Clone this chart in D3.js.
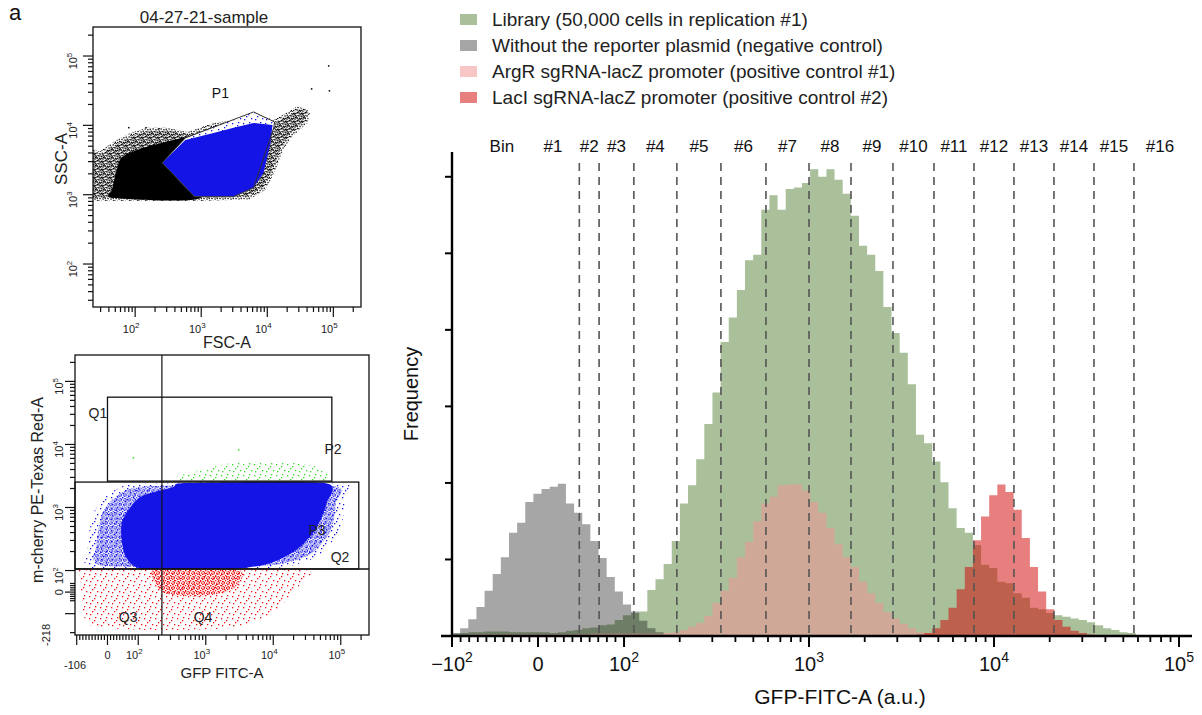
<!DOCTYPE html>
<html>
<head>
<meta charset="utf-8">
<title>GFP sorting bins</title>
<script src="https://d3js.org/d3.v7.min.js"></script>
<style>
  body { margin: 0; background: #fff; }
  text { font-family: "Liberation Sans", Arial, Helvetica, sans-serif; }
</style>
</head>
<body>
<div id="chart"></div>
<script>
// ---------------- data: right panel (GFP histograms) ----------------
const legendLabels = [
  "Library (50,000 cells in replication #1)",
  "Without the reporter plasmid (negative control)",
  "ArgR sgRNA-lacZ promoter (positive control #1)",
  "LacI sgRNA-lacZ promoter (positive control #2)"
];

// histogram bins are equal steps on the display axis, starting at -10^2
const histBinWidth = 0.044;   // one bar, in display decades

const libraryFirstBin = 0;
const libraryCounts = [
  3, 4, 5, 5, 6, 6, 6, 5, 5, 5, 5, 5, 4, 5,
  7, 8, 10, 11, 14, 15, 21, 27, 30, 32,
  60, 74, 94, 124, 173, 197, 231, 277, 318, 384,
  416, 452, 491, 498, 557, 576, 557, 584, 586, 592,
  610, 600, 610, 596, 578, 549, 510, 498, 477, 430,
  396, 370, 329, 263, 252, 228, 201, 167, 141, 135,
  119, 93, 89, 71, 69, 56, 50, 37, 35, 30,
  27, 25, 23, 21, 18, 14, 10, 8, 5, 4
];
const negativeFirstBin = 0;
const negativeCounts = [
  4, 10, 22, 38, 59, 81, 103, 135, 148, 175, 186, 192, 195, 199,
  173, 161, 146, 124, 102, 77, 58, 41, 32, 20, 10, 5
];
const argrFirstBin = 0;
const argrCounts = [
  1, 1, 2, 2, 2, 2, 2, 2, 2, 2, 2, 2, 2, 2, 2, 2, 2, 3, 3, 3, 3, 3, 3, 3, 3,
  3, 4, 5, 8, 12, 17, 26, 43, 59, 76,
  103, 123, 150, 173, 182, 197, 198, 198, 190, 175,
  161, 141, 120, 103, 90, 71, 56, 43, 31, 23,
  16, 10, 5, 4, 2
];
const laciFirstBin = 56;
const laciCounts = [
  1, 2, 4, 10, 21, 37, 61, 90, 125, 156, 184, 198, 188, 165, 128, 90, 58, 35, 21, 12, 7, 4, 2
];

// sorting gates (outer two edges only place the "Bin" and "#1" labels)
const binEdges = [-71, -13, 48, 71, 113, 193, 334, 585, 1000, 1686, 2843, 4736,
                  7791, 12817, 21090, 34700, 57070, 109000];
const binLabels = ["Bin", "#1", "#2", "#3", "#4", "#5", "#6", "#7", "#8", "#9",
                   "#10", "#11", "#12", "#13", "#14", "#15", "#16"];
const freqTicks = [100, 200, 300, 400, 500, 600];
const gfpTickValues = [-100, 0, 100, 1000, 10000, 100000];
const gfpTickLabels = [["\u221210", "2"], ["0", ""], ["10", "2"], ["10", "3"], ["10", "4"], ["10", "5"]];

// ---------------- data: top-left dot plot (FSC-A / SSC-A) ----------------
const scatterTitle = "04-27-21-sample";
const logTickValues = [100, 1000, 10000, 100000];
const logTickLabels = [["10", "2"], ["10", "3"], ["10", "4"], ["10", "5"]];
const allEvents = [[20, 4900], [29, 4150], [46, 5770], [84, 7770], [152, 9200], [306, 9200],
  [617, 8040], [1530, 10800], [3090, 11900], [6200, 15100], [12500, 11900], [20400, 15600],
  [29000, 19000], [41000, 16700], [38000, 11900], [22700, 7770], [16000, 4900], [12500, 2520],
  [8800, 1300], [5000, 940], [980, 900], [20, 900]];
const denseEvents = [[45, 1200], [60, 3300], [120, 4600], [257, 5600], [600, 6800],
  [973, 7000], [973, 906], [45, 906]];
const p1Events = [[257, 2880], [575, 6170], [1530, 7770], [3090, 9200], [6200, 10800],
  [12000, 10100], [11200, 5600], [8800, 2070], [6200, 1260], [3090, 940], [790, 940]];
const p1Gate = [[257, 2880], [575, 6590], [6200, 15600], [12900, 11200], [12500, 9180],
  [6200, 1260], [3090, 936], [790, 936]];
const p1Label = { text: "P1", fsc: 1950, ssc: 25000 };
const strayEvents = [[82800, 73800], [45700, 34400], [85000, 32300], [78, 9490], [142, 9490], [224, 9180]];

// ---------------- data: bottom-left dot plot (GFP / mCherry) ----------------
const gfpScatterTicks = [-106, 0, 100, 1000, 10000, 100000];
const gfpScatterLabels = [["-106", ""], ["0", ""], ["10", "2"], ["10", "3"], ["10", "4"], ["10", "5"]];
const mchTicks = [-218, 0, 100, 1000, 10000, 100000];
const mchLabels = [["-218", ""], ["0", ""], ["10", "2"], ["10", "3"], ["10", "4"], ["10", "5"]];
const quadGfp = 224, quadMch = 106;
const p2Gate = [[0, 2620], [73800, 56200]];
const p3Gate = [[-106, 106], [185000, 2530]];
const blueCore = [[50, 650], [106, 1460], [326, 2100], [525, 2440], [58000, 2440], [62000, 1175],
  [42000, 438], [22000, 211], [9000, 131], [2520, 106], [120, 106], [60, 164], [45, 340]];
const blueHalo = [[-64, 253], [-41, 910], [24, 1890], [149, 2440], [97000, 2440], [115000, 1310],
  [97000, 438], [49100, 176], [17600, 118], [4510, 106], [-41, 106]];
const greenEvents = [[348, 2620], [818, 3920], [3200, 5250], [17600, 5250], [49100, 4220], [62200, 2620]];
const greenStray = [[82, 6300], [2990, 8430]];
const redCore = [[180, 106], [2400, 106], [3600, 79], [2400, 10], [818, -20], [260, -8], [175, 47]];
const redHalo = [[-90, 106], [-90, 79], [-83, -37], [-57, -151], [149, -182], [2280, -169],
  [8900, -105], [24800, 33], [24800, 106]];
const quadLabels = [
  { text: "Q1", gfp: -31, mch: 26100 }, { text: "P2", gfp: 76700, mch: 7050 },
  { text: "P3", gfp: 44500, mch: 366 }, { text: "Q2", gfp: 97500, mch: 136 },
  { text: "Q3", gfp: 67, mch: -136 }, { text: "Q4", gfp: 910, mch: -136 }
];

// ---------------- helpers ----------------
// FACS-style display: linear between -100 and 100, log10 outside
function biex(linDecades) {
  return v => Math.abs(v) <= 100 ? v / 100 * linDecades
    : Math.sign(v) * (linDecades + Math.log10(Math.abs(v) / 100));
}
const isDecade = v => Math.abs(Math.log10(Math.abs(v)) % 1) < 1e-9 || v === 0;

const svg = d3.select("#chart").append("svg")
  .attr("width", 1202).attr("height", 715);
const defs = svg.append("defs");

function speckle(id, color, tile, dots) {
  const p = defs.append("pattern").attr("id", id).attr("patternUnits", "userSpaceOnUse")
    .attr("width", tile).attr("height", tile);
  p.selectAll("rect").data(dots).join("rect")
    .attr("x", d => d[0]).attr("y", d => d[1]).attr("width", 1.3).attr("height", 1.3)
    .attr("fill", color);
}
const sparseDots = [[1, 2], [7, 1], [4, 6], [9, 8], [2, 9], [6, 4]];
const denseDots = [[0, 0], [2.5, 1], [1, 2.6], [3.5, 3.1], [2, 3.9], [3.9, 1.7]];
const scatterDots = [[0.5, 0.3], [3.2, 1.1], [5.6, 0.6], [1.4, 2.9], [4.4, 3.4], [6.6, 2.6],
  [0.2, 5.1], [2.7, 5.7], [5.1, 5.9], [3.6, 7.1], [6.9, 4.8], [1.9, 7.3]];
speckle("spBlack", "#000", 8, scatterDots);
speckle("spBlue", "#1414e6", 11, sparseDots);
speckle("spBlueDense", "#1414e6", 5, denseDots);
speckle("spRed", "#f01010", 11, sparseDots);
speckle("spRedDense", "#f01010", 5, denseDots);
speckle("spGreen", "#33dd22", 11, sparseDots);

function supLabel(sel, base, sup, small, rise) {
  sel.append("tspan").text(base);
  if (sup) sel.append("tspan").attr("font-size", small).attr("dy", -rise).text(sup);
}

// ================= right panel =================
const tR = biex(0.465);
const xR = d3.scaleLinear().domain([tR(-100), tR(100000)]).range([452, 1179]);
const yR = d3.scaleLinear().domain([0, 635]).range([636, 150]);
const gx = v => xR(tR(v));
const histOrigin = tR(-100);
const rightG = svg.append("g");

const histFills = ["#a9c09b", "rgba(0,0,0,0.35)", "rgba(244,147,147,0.53)", "rgba(209,0,0,0.5)"];
const series = [
  { first: libraryFirstBin, counts: libraryCounts },
  { first: negativeFirstBin, counts: negativeCounts },
  { first: argrFirstBin, counts: argrCounts },
  { first: laciFirstBin, counts: laciCounts }
];
const stepArea = d3.area().curve(d3.curveStepAfter)
  .x(d => xR(d[0])).y0(yR(0)).y1(d => yR(d[1]));
series.forEach((s, k) => {
  const pts = s.counts.map((c, i) => [histOrigin + (s.first + i) * histBinWidth, c]);
  pts.push([histOrigin + (s.first + s.counts.length) * histBinWidth, s.counts[s.counts.length - 1]]);
  rightG.append("path").attr("d", stepArea(pts)).attr("fill", histFills[k]);
});

// gates
rightG.selectAll(".gate").data(binEdges.slice(2, binEdges.length - 1)).join("line")
  .attr("x1", d => gx(d)).attr("x2", d => gx(d))
  .attr("y1", 163).attr("y2", yR(0))
  .attr("stroke", "#555").attr("stroke-width", 1.6).attr("stroke-dasharray", "8,6");
rightG.selectAll(".binlab").data(binLabels).join("text")
  .attr("x", (d, i) => xR((tR(binEdges[i]) + tR(binEdges[i + 1])) / 2))
  .attr("y", 152).attr("text-anchor", "middle").attr("font-size", 17).attr("fill", "#111")
  .text(d => d);

// axes
rightG.append("line").attr("x1", gx(-100) - 11).attr("x2", gx(100000) + 13)
  .attr("y1", yR(0)).attr("y2", yR(0)).attr("stroke", "#000").attr("stroke-width", 2.4);
rightG.append("line").attr("x1", gx(-100)).attr("x2", gx(-100))
  .attr("y1", yR(0)).attr("y2", 152).attr("stroke", "#000").attr("stroke-width", 2.4);
rightG.selectAll(".yt").data(freqTicks).join("line")
  .attr("x1", gx(-100) - 7).attr("x2", gx(-100)).attr("y1", d => yR(d)).attr("y2", d => yR(d))
  .attr("stroke", "#000").attr("stroke-width", 2);

const minorR = d3.range(-90, 100, 10).filter(v => v !== 0);
[100, 1000, 10000].forEach(dec => d3.range(2, 10).forEach(k => minorR.push(k * dec)));
rightG.selectAll(".xtm").data(minorR).join("line")
  .attr("x1", d => gx(d)).attr("x2", d => gx(d)).attr("y1", yR(0)).attr("y2", yR(0) + 6)
  .attr("stroke", "#000").attr("stroke-width", 1.8);
rightG.selectAll(".xtM").data(gfpTickValues).join("line")
  .attr("x1", d => gx(d)).attr("x2", d => gx(d)).attr("y1", yR(0)).attr("y2", yR(0) + 11)
  .attr("stroke", "#000").attr("stroke-width", 2);
gfpTickValues.forEach((v, i) => {
  const t = rightG.append("text").attr("x", gx(v)).attr("y", 671)
    .attr("text-anchor", "middle").attr("font-size", 20).attr("fill", "#111");
  supLabel(t, gfpTickLabels[i][0], gfpTickLabels[i][1], 14, 9);
});
rightG.append("text").attr("x", 840).attr("y", 704).attr("text-anchor", "middle")
  .attr("font-size", 21).attr("fill", "#111").text("GFP-FITC-A (a.u.)");
rightG.append("text").attr("transform", "translate(418,394) rotate(-90)")
  .attr("text-anchor", "middle").attr("font-size", 20).attr("fill", "#111").text("Frequency");

// legend
const legend = rightG.selectAll(".leg").data(legendLabels).join("g")
  .attr("transform", (d, i) => `translate(460,${14 + i * 26})`);
legend.append("rect").attr("width", 17).attr("height", 11).attr("fill", (d, i) => histFills[i]);
legend.append("text").attr("x", 32).attr("y", 12).attr("font-size", 19).attr("fill", "#222")
  .text(d => d);

svg.append("text").attr("x", 9).attr("y", 20).attr("font-size", 22).attr("fill", "#111").text("a");

// ================= top-left: FSC-A vs SSC-A =================
const xT = d3.scaleLog().domain([23, 262144]).range([93, 361]);
const yT = d3.scaleLog().domain([24, 262144]).range([307, 27]);
const topG = svg.append("g");
defs.append("clipPath").attr("id", "clipTop").append("rect")
  .attr("x", 93).attr("y", 27).attr("width", 268).attr("height", 280);
const poly = d3.line().x(d => xT(d[0])).y(d => yT(d[1])).curve(d3.curveLinearClosed);
const polyRound = d3.line().x(d => xT(d[0])).y(d => yT(d[1])).curve(d3.curveCardinalClosed.tension(0.4));
const cloudT = topG.append("g").attr("clip-path", "url(#clipTop)");
cloudT.append("path").attr("d", poly(allEvents)).attr("fill", "url(#spBlack)");
cloudT.append("path").attr("d", poly(allEvents)).attr("fill", "url(#spBlack)")
  .attr("transform", "translate(2,3)");
cloudT.append("path").attr("d", polyRound(denseEvents)).attr("fill", "#000");
cloudT.append("path").attr("d", poly(p1Gate)).attr("fill", "#fff");
cloudT.append("path").attr("d", poly(p1Gate)).attr("fill", "url(#spBlue)");
cloudT.append("path").attr("d", poly(p1Events)).attr("fill", "#1414e6");
cloudT.selectAll(".stray").data(strayEvents).join("rect")
  .attr("x", d => xT(d[0])).attr("y", d => yT(d[1])).attr("width", 1.5).attr("height", 1.5).attr("fill", "#000");
topG.append("path").attr("d", poly(p1Gate)).attr("fill", "none").attr("stroke", "#333").attr("stroke-width", 1);
topG.append("text").attr("x", xT(p1Label.fsc)).attr("y", yT(p1Label.ssc)).attr("text-anchor", "middle")
  .attr("font-size", 14).attr("fill", "#111").text(p1Label.text);
topG.append("rect").attr("x", 93).attr("y", 27).attr("width", 268).attr("height", 280)
  .attr("fill", "none").attr("stroke", "#111").attr("stroke-width", 1.3);
topG.selectAll(".xt").data(xT.ticks()).join("line")
  .attr("x1", d => xT(d)).attr("x2", d => xT(d)).attr("y1", 307).attr("y2", d => 307 + (isDecade(d) ? 10 : 5))
  .attr("stroke", "#111").attr("stroke-width", 1.2);
topG.selectAll(".yt").data(yT.ticks()).join("line")
  .attr("y1", d => yT(d)).attr("y2", d => yT(d)).attr("x1", 93).attr("x2", d => 93 - (isDecade(d) ? 10 : 5))
  .attr("stroke", "#111").attr("stroke-width", 1.2);
logTickValues.forEach((v, i) => {
  const t = topG.append("text").attr("x", xT(v) - 4).attr("y", 333).attr("text-anchor", "middle")
    .attr("font-size", 11).attr("fill", "#222");
  supLabel(t, logTickLabels[i][0], logTickLabels[i][1], 8, 5);
  const r = topG.append("text").attr("transform", `translate(77,${yT(v) + 5}) rotate(-90)`)
    .attr("text-anchor", "middle").attr("font-size", 11).attr("fill", "#222");
  supLabel(r, logTickLabels[i][0], logTickLabels[i][1], 8, 5);
});
topG.append("text").attr("x", 204).attr("y", 23).attr("text-anchor", "middle")
  .attr("font-size", 17).attr("fill", "#222").text(scatterTitle);
topG.append("text").attr("x", 227).attr("y", 348).attr("text-anchor", "middle")
  .attr("font-size", 16).attr("fill", "#222").text("FSC-A");
topG.append("text").attr("transform", "translate(67,159) rotate(-90)").attr("text-anchor", "middle")
  .attr("font-size", 17).attr("fill", "#222").text("SSC-A");

// ================= bottom-left: GFP vs mCherry =================
const tBx = biex(0.456), tBy = biex(0.342);
const xB = d3.scaleLinear().domain([tBx(-106), tBx(262144)]).range([75, 369]);
const yB = d3.scaleLinear().domain([tBy(-218), tBy(262144)]).range([635, 355]);
const bx = v => xB(tBx(v)), by = v => yB(tBy(v));
const botG = svg.append("g");
const polyB = d3.line().x(d => bx(d[0])).y(d => by(d[1])).curve(d3.curveCardinalClosed.tension(0.3));

defs.append("clipPath").attr("id", "clipP3").append("rect")
  .attr("x", bx(p3Gate[0][0])).attr("y", by(p3Gate[1][1]))
  .attr("width", bx(p3Gate[1][0]) - bx(p3Gate[0][0])).attr("height", by(p3Gate[0][1]) - by(p3Gate[1][1]));
defs.append("clipPath").attr("id", "clipLow").append("rect")
  .attr("x", 75).attr("y", by(quadMch)).attr("width", 294).attr("height", 635 - by(quadMch));
defs.append("clipPath").attr("id", "clipP2").append("rect")
  .attr("x", bx(p2Gate[0][0])).attr("y", by(p2Gate[1][1]))
  .attr("width", bx(p2Gate[1][0]) - bx(p2Gate[0][0])).attr("height", by(p2Gate[0][1]) - by(p2Gate[1][1]));

const blueG = botG.append("g").attr("clip-path", "url(#clipP3)");
blueG.append("path").attr("d", polyB(blueHalo)).attr("fill", "url(#spBlue)");
blueG.append("path").attr("d", polyB(blueHalo)).attr("fill", "url(#spBlueDense)")
  .attr("transform", "translate(215,525) scale(0.93) translate(-215,-525)");
blueG.append("path").attr("d", polyB(blueCore)).attr("fill", "#1414e6");
const redG = botG.append("g").attr("clip-path", "url(#clipLow)");
redG.append("path").attr("d", polyB(redHalo)).attr("fill", "url(#spRed)");
redG.append("path").attr("d", polyB(redCore)).attr("fill", "url(#spRedDense)");
const greenG = botG.append("g").attr("clip-path", "url(#clipP2)");
greenG.append("path").attr("d", polyB(greenEvents)).attr("fill", "url(#spGreen)");
greenG.selectAll(".gs").data(greenStray).join("rect")
  .attr("x", d => bx(d[0])).attr("y", d => by(d[1])).attr("width", 1.5).attr("height", 1.5).attr("fill", "#33dd22");

// gates and quadrants
const gateRect = (g) => botG.append("rect")
  .attr("x", bx(g[0][0])).attr("y", by(g[1][1]))
  .attr("width", bx(g[1][0]) - bx(g[0][0])).attr("height", by(g[0][1]) - by(g[1][1]))
  .attr("fill", "none").attr("stroke", "#111").attr("stroke-width", 1.3);
gateRect(p2Gate);
gateRect(p3Gate);
botG.append("line").attr("x1", bx(quadGfp)).attr("x2", bx(quadGfp)).attr("y1", 355).attr("y2", 635)
  .attr("stroke", "#111").attr("stroke-width", 1.2);
botG.append("line").attr("x1", 75).attr("x2", 369).attr("y1", by(quadMch)).attr("y2", by(quadMch))
  .attr("stroke", "#111").attr("stroke-width", 1.6);
botG.append("rect").attr("x", 75).attr("y", 355).attr("width", 294).attr("height", 280)
  .attr("fill", "none").attr("stroke", "#111").attr("stroke-width", 1.3);
botG.selectAll(".ql").data(quadLabels).join("text")
  .attr("x", d => bx(d.gfp)).attr("y", d => by(d.mch)).attr("text-anchor", "middle")
  .attr("font-size", 14).attr("fill", "#222").text(d => d.text);

// ticks
const linTicks = d3.range(-100, 101, 10);
const logTicks = [];
[100, 1000, 10000, 100000].forEach(dec => d3.range(1, 10).forEach(k => {
  if (k * dec <= 262144 && !(dec === 100 && k === 1)) logTicks.push(k * dec);
}));
const bxTicks = linTicks.concat(logTicks);
const byTicks = [-200, -100, -40, -30, -20, -10, 0, 10, 20, 30, 40, 100].concat(logTicks);
const majorB = v => [-100, 0, 100, 1000, 10000, 100000].includes(v);
botG.selectAll(".bxt").data(bxTicks).join("line")
  .attr("x1", d => bx(d)).attr("x2", d => bx(d)).attr("y1", 635).attr("y2", d => 635 + (majorB(d) ? 10 : 5))
  .attr("stroke", "#111").attr("stroke-width", 1.2);
botG.selectAll(".byt").data(byTicks).join("line")
  .attr("y1", d => by(d)).attr("y2", d => by(d)).attr("x1", 75).attr("x2", d => 75 - (majorB(d) ? 10 : 5))
  .attr("stroke", "#111").attr("stroke-width", 1.2);
gfpScatterTicks.forEach((v, i) => {
  const neg = v < 0;
  const t = botG.append("text").attr("x", bx(v) - (gfpScatterLabels[i][1] ? 4 : 0)).attr("y", neg ? 669 : 659)
    .attr("text-anchor", "middle").attr("font-size", 11).attr("fill", "#222");
  supLabel(t, gfpScatterLabels[i][0], gfpScatterLabels[i][1], 8, 5);
});
mchTicks.forEach((v, i) => {
  const neg = v < 0;
  const r = botG.append("text")
    .attr("transform", `translate(${neg ? 50 : 63},${by(v) + (mchLabels[i][1] ? 5 : 0)}) rotate(-90)`)
    .attr("text-anchor", "middle").attr("font-size", 11).attr("fill", "#222");
  supLabel(r, mchLabels[i][0], mchLabels[i][1], 8, 5);
});
botG.append("text").attr("x", 222).attr("y", 678).attr("text-anchor", "middle")
  .attr("font-size", 15).attr("fill", "#222").text("GFP FITC-A");
botG.append("text").attr("transform", "translate(43,490) rotate(-90)").attr("text-anchor", "middle")
  .attr("font-size", 16).attr("fill", "#222").text("m-cherry PE-Texas Red-A");
</script>
</body>
</html>
